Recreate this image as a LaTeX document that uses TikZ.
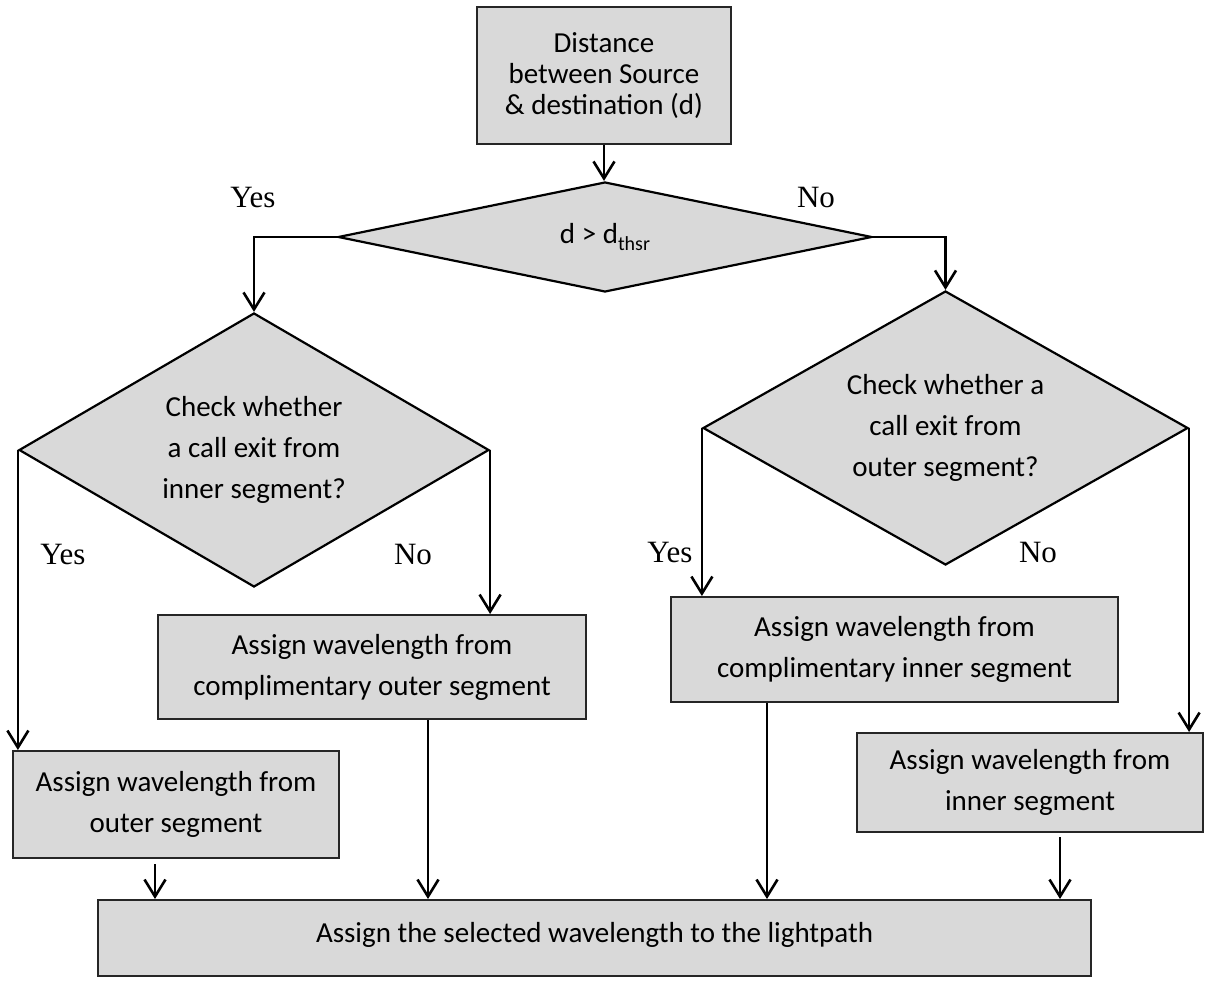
\documentclass[tikz,border=0pt]{standalone}
\usepackage{fontspec}
\setmainfont{Carlito}
\newfontfamily\answerfont{Liberation Serif}
\usetikzlibrary{shapes.geometric,arrows.meta}
\definecolor{boxgray}{HTML}{D9D9D9}
\begin{document}
\begin{tikzpicture}[x=1pt,y=-1pt,
  stepbox/.style={rectangle, draw=black!85, line width=2pt, fill=boxgray,
    inner sep=0pt, align=center, font=\fontsize{29}{41}\selectfont},
  decision/.style={diamond, draw=black, line width=2.2pt, fill=boxgray,
    inner sep=0pt, align=center, font=\fontsize{29}{41}\selectfont},
  arr/.style={line width=2.6pt, -{Straight Barb[length=17pt,width=21pt]}},
  answer/.style={font=\answerfont\fontsize{31}{31}\selectfont, inner sep=0pt}]

\useasboundingbox (0,0) rectangle (1208,984);

% start box and the first test
\node[stepbox, minimum width=254pt, minimum height=137pt,
      font=\fontsize{29}{31}\selectfont] (src) at (604,76)
  {Distance\\between Source\\\& destination (d)};
\node[decision, minimum width=534pt, minimum height=110pt, aspect=4.85] (d1) at (605,237)
  {d > d\raisebox{-7pt}{\fontsize{20}{20}\selectfont thsr}};

% second-level tests
\node[decision, minimum width=470pt, minimum height=274pt, aspect=1.7] (d2) at (254,450)
  {Check whether\\a call exit from\\inner segment?};
\node[decision, minimum width=485pt, minimum height=274pt, aspect=1.77] (d3) at (945.5,428)
  {Check whether a\\call exit from\\outer segment?};

% assignment boxes
\node[stepbox, minimum width=326pt, minimum height=107pt] (lbox) at (176,804.5)
  {Assign wavelength from\\outer segment};
\node[stepbox, minimum width=428pt, minimum height=104pt] (cout) at (372,667)
  {Assign wavelength from\\complimentary outer segment};
\node[stepbox, minimum width=447pt, minimum height=105pt] (cin) at (894.5,649.5)
  {Assign wavelength from\\complimentary inner segment};
\node[stepbox, minimum width=346pt, minimum height=99pt] (ibox) at (1030,782.5)
  {Assign wavelength from\\inner segment};
\node[stepbox, minimum width=993pt, minimum height=76pt,
      text height=42pt, text depth=34pt] (bot) at (594.5,938)
  {Assign the selected wavelength to the lightpath};

% branch labels
\node[answer] (y1) at (253,198) {Yes};
\node[answer] (n1) at (816,198) {No};
\node[answer] (y2) at (63,555) {Yes};
\node[answer] (n2) at (413,555) {No};
\node[answer] (y3) at (670,553) {Yes};
\node[answer] (n3) at (1038,553) {No};

% connectors
\draw[arr] (src.south) -- (src.south |- d1.north);
\draw[arr] (d1.west) -| (d2.north);
\draw[arr] (d1.east) -| (d3.north);
\draw[arr] (d2.west) -- (d2.west |- lbox.north);
\draw[arr] (d2.east) -- (d2.east |- cout.north);
\draw[arr] (d3.west) -- (d3.west |- cin.north);
\draw[arr] (d3.east) -- (d3.east |- ibox.north);
\draw[arr, shorten <=5pt] ([xshift=-21pt]lbox.south) -- ([xshift=-21pt]lbox.south |- bot.north);
\draw[arr] ([xshift=56pt]cout.south) -- ([xshift=56pt]cout.south |- bot.north);
\draw[arr] ([xshift=-127.5pt]cin.south) -- ([xshift=-127.5pt]cin.south |- bot.north);
\draw[arr, shorten <=4pt] ([xshift=30pt]ibox.south) -- ([xshift=30pt]ibox.south |- bot.north);
\end{tikzpicture}
\end{document}
